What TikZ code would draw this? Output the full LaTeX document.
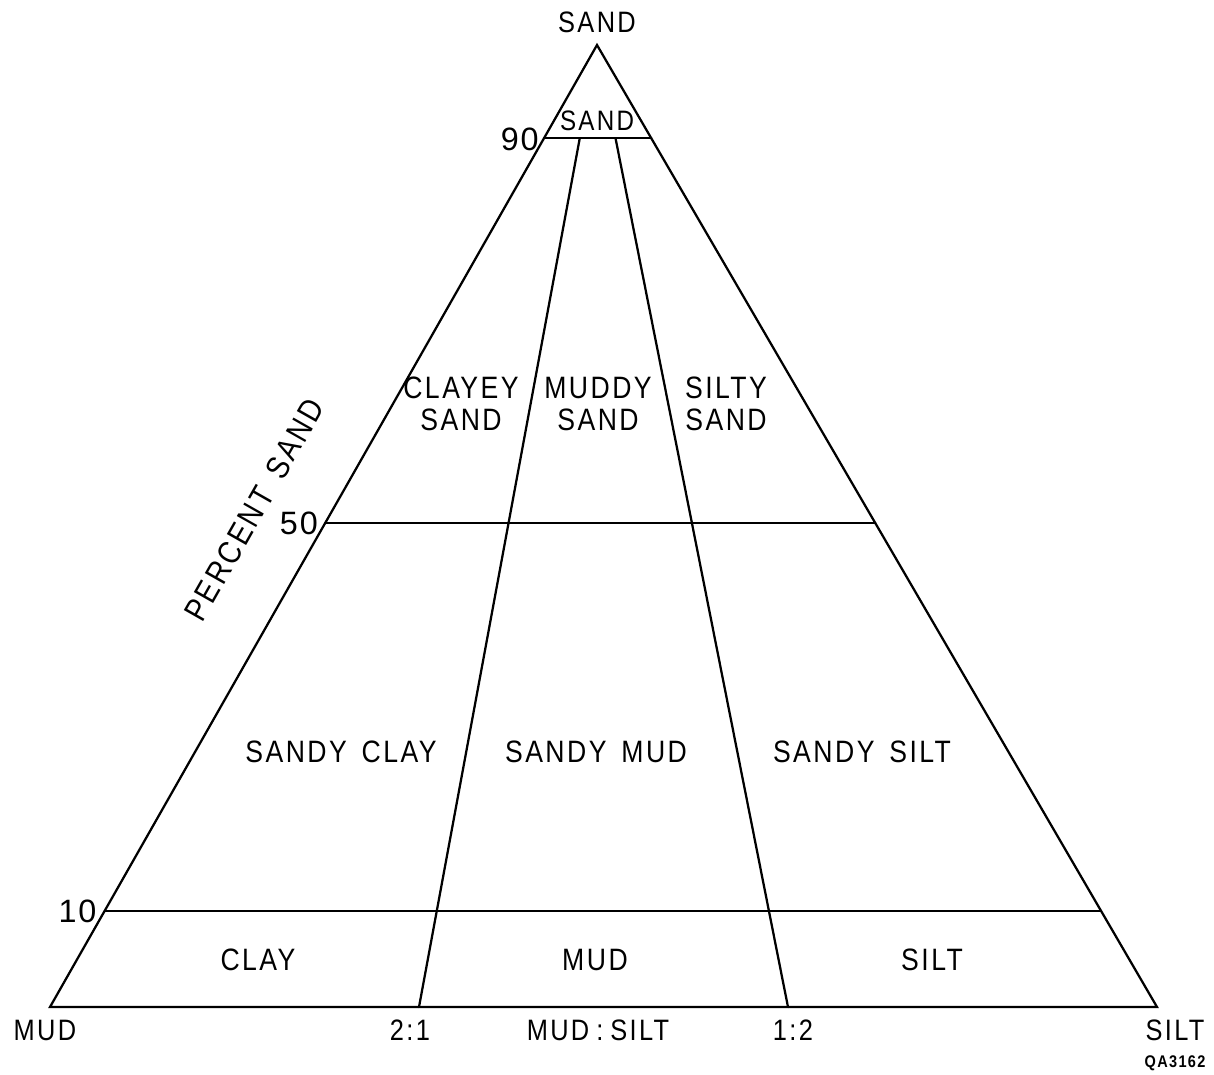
\documentclass[tikz,border=0pt]{standalone}
\usepackage{fontspec}
\setmainfont{Liberation Sans}[LetterSpace=8, FakeStretch=0.86, WordSpace=1.5]
\newfontfamily\digitfont{Liberation Sans}[LetterSpace=6]
\usetikzlibrary{calc,positioning}

\begin{document}
\begin{tikzpicture}[
    x=0.025cm, y=-0.025cm,
    edge/.style={line width=1.6pt, line join=miter, line cap=round},
    field/.style={font=\fontsize{22}{22.7}\selectfont, align=center, inner sep=0pt},
    tick/.style={font=\digitfont\fontsize{23}{24}\selectfont, inner sep=0pt},
    corner/.style={font=\fontsize{21}{24}\selectfont, inner sep=0pt}
  ]
  \useasboundingbox (0,0) rectangle (1214,1074);

  % end members
  \coordinate (sandv) at (597,45);
  \coordinate (mudv) at (50,1007);
  \coordinate (siltv) at (1157,1007);
  % mud:silt ratios on the base
  \coordinate (r21) at ($(mudv)!1/3!(siltv)$);
  \coordinate (r12) at ($(mudv)!2/3!(siltv)$);
  % percent sand levels
  \foreach \p/\n in {0.903/ninety, 0.503/fifty, 0.1/ten} {
    \coordinate (\n L) at ($(mudv)!\p!(sandv)$);
    \coordinate (\n R) at ($(siltv)!\p!(sandv)$);
  }
  \coordinate (t21) at ($(r21)!0.903!(sandv)$);
  \coordinate (t12) at ($(r12)!0.903!(sandv)$);

  \draw[edge] (sandv) -- (mudv) -- (siltv) -- cycle;
  \draw[edge] (ninetyL) -- (ninetyR);
  \draw[edge] (fiftyL) -- (fiftyR);
  \draw[edge] (tenL) -- (tenR);
  \draw[edge] (r21) -- (t21);
  \draw[edge] (r12) -- (t12);

  % corners and base
  \node[corner] (sandlbl) at (597,22) {SAND};
  \node[corner] (mudlbl) at (45,1030) {MUD};
  \node[corner] (siltlbl) at (1175,1030) {SILT};
  \node[corner] (lbl21) at (410,1030) {2:1};
  \node[corner] (lbl12) at (793,1030) {1:2};
  \node[corner] (ratio) at (598,1030) {MUD\kern5pt:\kern5pt SILT};
  \node[font=\fontsize{12}{14}\selectfont\bfseries, inner sep=0pt] (code) at (1175,1063) {QA3162};

  % percent sand axis
  \node[tick, anchor=east] (p90) at ($(ninetyL)+(-5,1)$) {90};
  \node[tick, anchor=east] (p50) at ($(fiftyL)+(-7,0)$) {50};
  \node[tick, anchor=east] (p10) at ($(tenL)+(-8,1)$) {10};
  \node[corner, font=\fontsize{23}{24}\selectfont, rotate=60.4] (axis) at (254,510) {PERCENT SAND};

  % textural classes
  \node[font=\fontsize{20}{22}\selectfont, inner sep=0pt] (sand) at (597,121) {SAND};
  \node[field] (csand) at (461,404) {CLAYEY\\SAND};
  \node[field] (msand) at (598,404) {MUDDY\\SAND};
  \node[field] (ssand) at (726,404) {SILTY\\SAND};
  \node[field] (sclay) at (341,752) {SANDY CLAY};
  \node[field] (smud) at (596,752) {SANDY MUD};
  \node[field] (ssilt) at (862,752) {SANDY SILT};
  \node[field] (clay) at (258,960) {CLAY};
  \node[field] (mud) at (595,960) {MUD};
  \node[field] (silt) at (932,960) {SILT};
\end{tikzpicture}
\end{document}
